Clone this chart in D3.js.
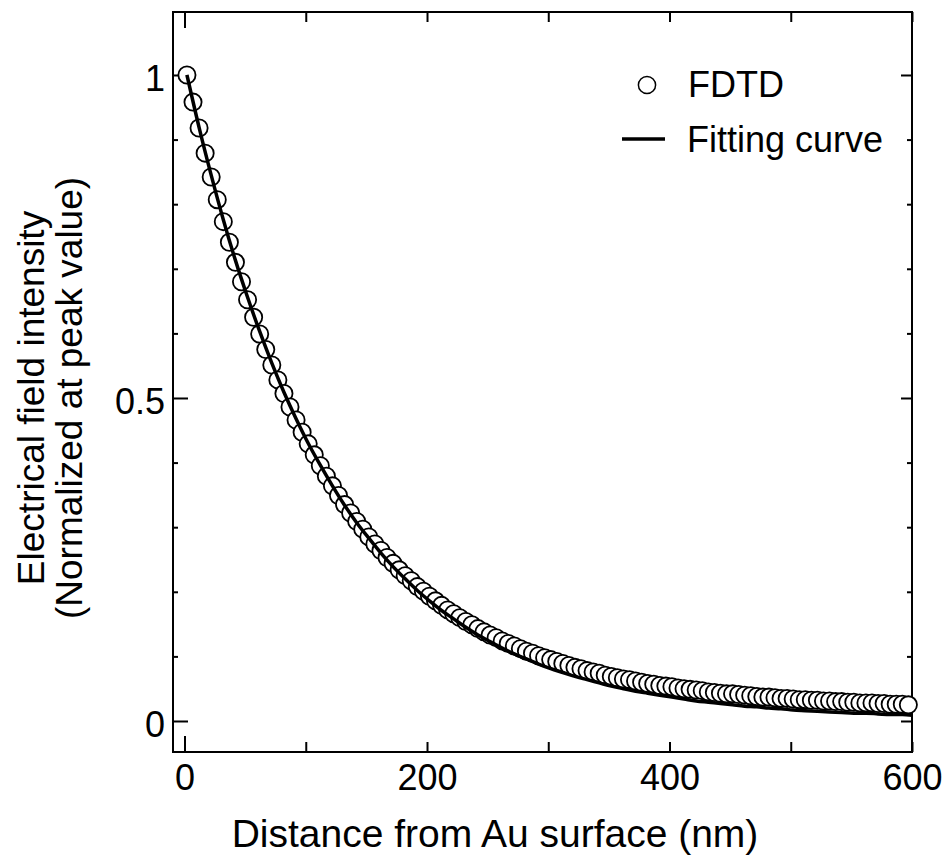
<!doctype html>
<html lang='en'>
<head>
  <meta charset='utf-8'>
  <title>Electrical field intensity vs distance</title>
  <style>
    html, body { margin: 0; padding: 0; background: #fff; }
    svg { display: block; }
    text { font-family: 'Liberation Sans', Arial, Helvetica, sans-serif; fill: #000; }
    .axis path.domain { display: none; }
    .axis line { stroke: #000; stroke-width: 2; }
  </style>
</head>
<body>
  <script src='https://d3js.org/d3.v7.min.js'></script>
  <script>
    // FDTD samples: first at 2 nm, then every 5 nm
    const fdtdStart = 2
    const fdtdStep = 5
    const fdtdIntensity = [
      1.000, 0.958, 0.918, 0.879, 0.842, 0.807, 0.773, 0.741, 0.710, 0.680,
      0.652, 0.625, 0.599, 0.575, 0.551, 0.528, 0.507, 0.486, 0.466, 0.447,
      0.429, 0.412, 0.395, 0.379, 0.364, 0.349, 0.335, 0.322, 0.309, 0.297,
      0.285, 0.274, 0.264, 0.253, 0.244, 0.234, 0.225, 0.217, 0.208, 0.201,
      0.193, 0.186, 0.179, 0.172, 0.166, 0.160, 0.154, 0.149, 0.143, 0.138,
      0.133, 0.129, 0.124, 0.120, 0.116, 0.112, 0.108, 0.105, 0.101, 0.098,
      0.095, 0.092, 0.089, 0.086, 0.083, 0.081, 0.078, 0.076, 0.074, 0.071,
      0.069, 0.067, 0.065, 0.064, 0.062, 0.060, 0.058, 0.057, 0.055, 0.054,
      0.053, 0.051, 0.050, 0.049, 0.048, 0.047, 0.045, 0.044, 0.043, 0.042,
      0.042, 0.041, 0.040, 0.039, 0.038, 0.037, 0.037, 0.036, 0.035, 0.035,
      0.034, 0.033, 0.033, 0.032, 0.032, 0.031, 0.031, 0.030, 0.030, 0.029,
      0.029, 0.028, 0.028, 0.028, 0.027, 0.027, 0.026, 0.026, 0.026, 0.025
    ]

    // fitting curve samples: every 10 nm from 2 nm, last one at 600 nm
    const fitDistance = d3.range(2, 600, 10).concat([600])
    const fitIntensity = [
      1.000, 0.919, 0.845, 0.776, 0.713, 0.656, 0.603, 0.554, 0.509, 0.468,
      0.430, 0.396, 0.364, 0.334, 0.307, 0.283, 0.260, 0.239, 0.220, 0.202,
      0.186, 0.171, 0.158, 0.145, 0.133, 0.123, 0.113, 0.104, 0.096, 0.088,
      0.081, 0.075, 0.069, 0.064, 0.059, 0.054, 0.050, 0.046, 0.043, 0.040,
      0.037, 0.034, 0.031, 0.029, 0.027, 0.025, 0.023, 0.022, 0.020, 0.019,
      0.017, 0.016, 0.015, 0.014, 0.013, 0.012, 0.012, 0.011, 0.010, 0.010,
      0.009
    ]

    const xTicks = [0, 100, 200, 300, 400, 500, 600]
    const xLabels = [0, 200, 400, 600]
    const yMajor = [0, 0.5, 1]
    const yMinor = [0.1, 0.2, 0.3, 0.4, 0.6, 0.7, 0.8, 0.9]

    const width = 949
    const height = 867
    const box = { left: 173, right: 912, top: 12, bottom: 752 }

    const fdtd = fdtdIntensity.map((v, i) => ({ d: fdtdStart + i * fdtdStep, v }))
    const fit = fitIntensity.map((v, i) => ({ d: fitDistance[i], v }))

    const x = d3.scaleLinear().domain([-9.5, 600]).range([box.left, box.right])
    const y = d3.scaleLinear().domain([-0.048, 1.0975]).range([box.bottom, box.top])

    const svg = d3.select('body').append('svg')
      .attr('width', width)
      .attr('height', height)

    const fontSize = 36

    // bottom axis with labels
    const bottomAxis = svg.append('g')
      .attr('class', 'axis')
      .attr('transform', `translate(0,${box.bottom})`)
      .call(d3.axisBottom(x)
        .tickValues(xTicks)
        .tickSize(-10)
        .tickPadding(12)
        .tickFormat(d => xLabels.includes(d) ? d : ''))
    bottomAxis.selectAll('text').style('font-size', fontSize + 'px').attr('font-family', null)
    bottomAxis.selectAll('.tick').filter(d => d === 0).select('line').attr('y2', -16)

    // top axis, no labels
    const topAxis = svg.append('g')
      .attr('class', 'axis')
      .attr('transform', `translate(0,${box.top})`)
      .call(d3.axisTop(x).tickValues(xTicks).tickSize(-10).tickFormat(''))
    topAxis.selectAll('.tick').filter(d => d === 0).select('line').attr('y2', 16)

    // left axis
    const leftAxis = svg.append('g')
      .attr('class', 'axis')
      .attr('transform', `translate(${box.left},0)`)
      .call(d3.axisLeft(y).tickValues(yMajor).tickSize(-15).tickPadding(8)
        .tickFormat(d => d === 0.5 ? '0.5' : d3.format('d')(d)))
    leftAxis.selectAll('text').style('font-size', fontSize + 'px').attr('font-family', null).attr('dy', '0.43em')

    svg.append('g')
      .attr('class', 'axis')
      .attr('transform', `translate(${box.left},0)`)
      .call(d3.axisLeft(y).tickValues(yMinor).tickSize(-5).tickFormat(''))

    // right axis
    svg.append('g')
      .attr('class', 'axis')
      .attr('transform', `translate(${box.right},0)`)
      .call(d3.axisRight(y).tickValues(yMajor).tickSize(-11).tickFormat(''))

    svg.append('g')
      .attr('class', 'axis')
      .attr('transform', `translate(${box.right},0)`)
      .call(d3.axisRight(y).tickValues(yMinor).tickSize(-5).tickFormat(''))

    // frame
    svg.append('rect')
      .attr('x', box.left)
      .attr('y', box.top)
      .attr('width', box.right - box.left)
      .attr('height', box.bottom - box.top)
      .attr('fill', 'none')
      .attr('stroke', '#000')
      .attr('stroke-width', 2)

    // FDTD markers
    svg.append('g')
      .selectAll('circle')
      .data(fdtd)
      .join('circle')
      .attr('cx', d => x(d.d))
      .attr('cy', d => y(d.v))
      .attr('r', 8.6)
      .attr('fill', '#fff')
      .attr('stroke', '#000')
      .attr('stroke-width', 1.8)

    // fitting curve
    const line = d3.line()
      .x(d => x(d.d))
      .y(d => y(d.v))
      .curve(d3.curveMonotoneX)

    svg.append('path')
      .datum(fit)
      .attr('d', line)
      .attr('fill', 'none')
      .attr('stroke', '#000')
      .attr('stroke-width', 3.5)

    // legend
    const legend = svg.append('g')
    legend.append('circle')
      .attr('cx', 647)
      .attr('cy', 85)
      .attr('r', 8.6)
      .attr('fill', '#fff')
      .attr('stroke', '#000')
      .attr('stroke-width', 1.5)
    legend.append('text')
      .attr('x', 688)
      .attr('y', 97)
      .style('font-size', '36px')
      .text('FDTD')
    legend.append('line')
      .attr('x1', 622)
      .attr('x2', 665)
      .attr('y1', 139)
      .attr('y2', 139)
      .attr('stroke', '#000')
      .attr('stroke-width', 3.3)
    legend.append('text')
      .attr('x', 687)
      .attr('y', 152)
      .style('font-size', '36px')
      .text('Fitting curve')

    // axis titles
    svg.append('text')
      .attr('x', 495)
      .attr('y', 847)
      .attr('text-anchor', 'middle')
      .style('font-size', '39px')
      .text('Distance from Au surface (nm)')

    const yTitle = svg.append('g')
      .attr('transform', 'translate(0,398) rotate(-90)')
    yTitle.append('text')
      .attr('x', 0)
      .attr('y', 44)
      .attr('text-anchor', 'middle')
      .style('font-size', '37px')
      .text('Electrical field intensity')
    yTitle.append('text')
      .attr('x', 0)
      .attr('y', 82)
      .attr('text-anchor', 'middle')
      .style('font-size', '37px')
      .text('(Normalized at peak value)')
  </script>
</body>
</html>
